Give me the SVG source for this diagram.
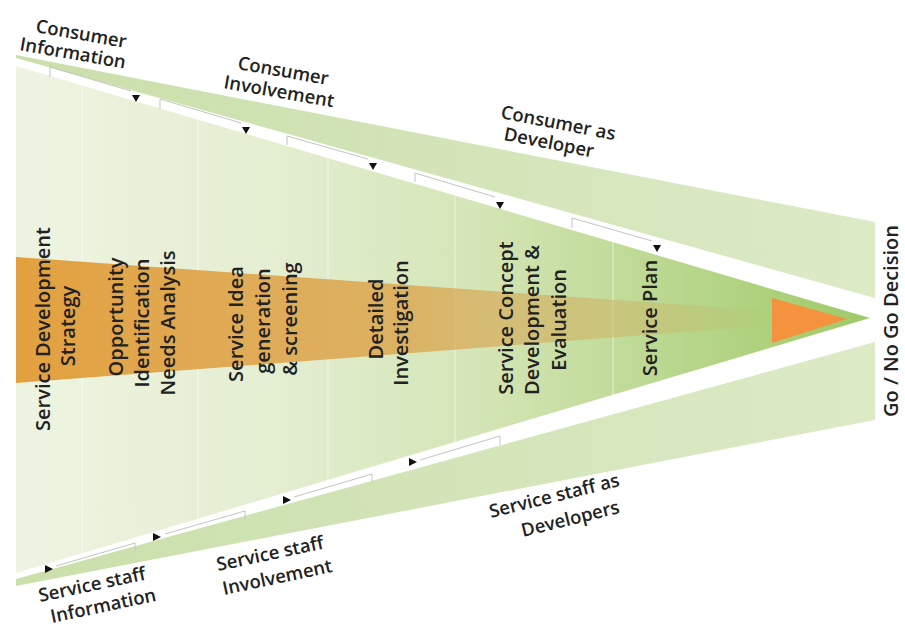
<svg xmlns="http://www.w3.org/2000/svg" width="905" height="630" viewBox="0 0 905 630">
<defs>
<linearGradient id="gMain" gradientUnits="userSpaceOnUse" x1="16" y1="0" x2="870" y2="0">
<stop offset="0" stop-color="#EEF4E2"/>
<stop offset="0.3" stop-color="#E4EED1"/>
<stop offset="0.55" stop-color="#D3E5B5"/>
<stop offset="0.75" stop-color="#BCD891"/>
<stop offset="1" stop-color="#9FCA68"/>
</linearGradient>
<linearGradient id="gOrange" gradientUnits="userSpaceOnUse" x1="16" y1="0" x2="870" y2="0">
<stop offset="0" stop-color="#E3A03E" stop-opacity="1"/>
<stop offset="0.45" stop-color="#DCA54E" stop-opacity="0.82"/>
<stop offset="0.75" stop-color="#CDAE5E" stop-opacity="0.4"/>
<stop offset="0.9" stop-color="#C8B060" stop-opacity="0"/>
</linearGradient>
<linearGradient id="gWedge" gradientUnits="userSpaceOnUse" x1="16" y1="0" x2="875" y2="0">
<stop offset="0" stop-color="#CADFAA"/>
<stop offset="1" stop-color="#DCEAC6"/>
</linearGradient>
<style>
.v{font-family:"Open Sans","Noto Sans","DejaVu Sans",sans-serif;font-weight:600;font-size:20px;fill:#222;text-anchor:middle}
.w{font-family:"Open Sans","Noto Sans","DejaVu Sans",sans-serif;font-weight:600;font-size:18.5px;fill:#222}
.sep{stroke:#FFFFFF;stroke-opacity:0.5;stroke-width:1.2}
.br{fill:none;stroke:#C4C4C4;stroke-width:1}
.ah{fill:#111}
</style>
</defs>
<rect width="905" height="630" fill="#FFFFFF"/>

<g id="background-shapes">
<polygon points="16,55 875,222 875,298 16,58" fill="url(#gWedge)"/>
<polygon points="16,579 875,342 875,420 16,586" fill="url(#gWedge)"/>
<polygon points="16,66 870,318 16,573" fill="url(#gMain)"/>
<line class="sep" x1="82" y1="86" x2="82" y2="554"/>
<line class="sep" x1="198" y1="120" x2="198" y2="520"/>
<line class="sep" x1="328" y1="158" x2="328" y2="482"/>
<line class="sep" x1="455" y1="196" x2="455" y2="444"/>
<line class="sep" x1="613" y1="242" x2="613" y2="398"/>
<polygon points="16,257 870,318 16,383" fill="url(#gOrange)"/>
<polygon points="772,298 847,319 772,343" fill="#F4923E"/>
</g>

<g id="connectors">
<path class="br" d="M50,77 V67 L131,91"/>
<path class="br" d="M160,109 V99 L241,123"/>
<path class="br" d="M287,145 V136 L368,159"/>
<path class="br" d="M415,182 V173 L495,197"/>
<path class="br" d="M572,228 V218 L652,241"/>
<polygon class="ah" points="132,95 140,95 136,102"/>
<polygon class="ah" points="242,127 250,127 246,134"/>
<polygon class="ah" points="369,163 377,163 373,170"/>
<polygon class="ah" points="496,202 504,202 500,209"/>
<polygon class="ah" points="653,245 661,245 657,252"/>
<path class="br" d="M56,566 L135,543 V551"/>
<path class="br" d="M165,534 L245,511 V519"/>
<path class="br" d="M294,497 L372,474 V482"/>
<path class="br" d="M420,460 L500,436 V445"/>
<polygon class="ah" points="45,565 45,573 53,569"/>
<polygon class="ah" points="153,533 153,541 161,537"/>
<polygon class="ah" points="283,496 283,504 291,500"/>
<polygon class="ah" points="409,458 409,466 417,462"/>
</g>

<g id="phase-strategy">
<text class="v" transform="translate(50,329) rotate(-90)">Service Development</text>
<text class="v" transform="translate(75,326) rotate(-90)">Strategy</text>
</g>
<g id="phase-opportunity">
<text class="v" transform="translate(123,317) rotate(-90)">Opportunity</text>
<text class="v" transform="translate(149,323) rotate(-90)">Identification</text>
<text class="v" transform="translate(175,323) rotate(-90)">Needs Analysis</text>
</g>
<g id="phase-idea">
<text class="v" transform="translate(243,324) rotate(-90)">Service Idea</text>
<text class="v" transform="translate(270,321) rotate(-90)">generation</text>
<text class="v" transform="translate(297,319) rotate(-90)">&amp; screening</text>
</g>
<g id="phase-investigation">
<text class="v" transform="translate(383,319) rotate(-90)">Detailed</text>
<text class="v" transform="translate(408,323) rotate(-90)">Investigation</text>
</g>
<g id="phase-concept">
<text class="v" transform="translate(513,318) rotate(-90)">Service Concept</text>
<text class="v" transform="translate(539,320) rotate(-90)">Development &amp;</text>
<text class="v" transform="translate(566,320) rotate(-90)">Evaluation</text>
</g>
<g id="phase-plan">
<text class="v" transform="translate(657,318) rotate(-90)">Service Plan</text>
</g>
<g id="decision">
<text class="v" transform="translate(898,321) rotate(-90)">Go / No Go Decision</text>
</g>

<g id="consumer-information">
<text class="w" transform="translate(35,32) rotate(10)">Consumer</text>
<text class="w" transform="translate(19,50) rotate(10)">Information</text>
</g>
<g id="consumer-involvement">
<text class="w" transform="translate(237,69) rotate(10)">Consumer</text>
<text class="w" transform="translate(223,88) rotate(10)">Involvement</text>
</g>
<g id="consumer-developer">
<text class="w" transform="translate(500,118) rotate(11)">Consumer as</text>
<text class="w" transform="translate(503,140) rotate(11)">Developer</text>
</g>
<g id="staff-information">
<text class="w" transform="translate(40,602) rotate(-12)">Service staff</text>
<text class="w" transform="translate(52,623) rotate(-12)">Information</text>
</g>
<g id="staff-involvement">
<text class="w" transform="translate(218,571) rotate(-12)">Service staff</text>
<text class="w" transform="translate(224,595) rotate(-12)">Involvement</text>
</g>
<g id="staff-developers">
<text class="w" transform="translate(491,518) rotate(-14)">Service staff as</text>
<text class="w" transform="translate(523,537) rotate(-14)">Developers</text>
</g>
</svg>
